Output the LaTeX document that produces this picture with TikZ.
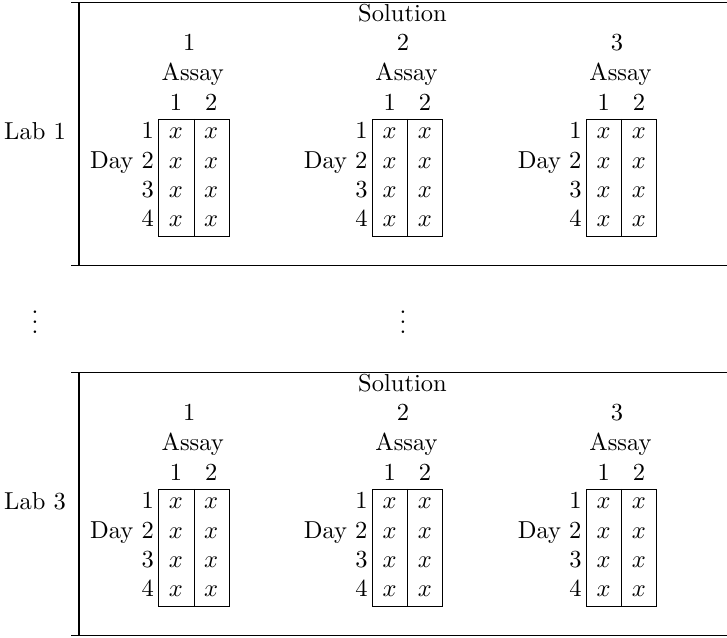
\documentclass[tikz,border=0pt]{standalone}
\begin{document}
\begin{tikzpicture}[x=0.408pt,y=-0.408pt,
  lbl/.style={inner sep=0pt,anchor=base},
  rlbl/.style={inner sep=0pt,anchor=base east},
  cellbox/.style={draw,inner sep=0pt,anchor=north west,minimum width=28.75pt,minimum height=47.85pt},
  rule/.style={line width=0.45pt}]
\useasboundingbox (0,0) rectangle (727,638);
\foreach \L/\oy in {1/0,3/370}{
  \coordinate (tl\L) at (71,\oy+2.7);
  \coordinate (tr\L) at (727,\oy+2.7);
  \coordinate (bl\L) at (71,\oy+265.7);
  \coordinate (br\L) at (727,\oy+265.7);
  \coordinate (vt\L) at (79,\oy+2.7);
  \coordinate (vb\L) at (79,\oy+265.7);
  \draw[rule] (tl\L) -- (tr\L);
  \draw[rule] (bl\L) -- (br\L);
  \draw[rule] (vt\L) -- (vb\L);
  \node[lbl] (lab\L) at (35,\oy+140) {Lab \L};
  \node[lbl] (soltitle\L) at (402.5,\oy+22) {Solution};
  \foreach \s/\bx in {1/158.3,2/372,3/586}{
    \node[lbl] (num\L\s) at (\bx+31,\oy+51) {\s};
    \node[lbl] (assay\L\s) at (\bx+34.5,\oy+81) {Assay};
    \node[lbl] (ca\L\s) at (\bx+17.7,\oy+111) {1};
    \node[lbl] (cb\L\s) at (\bx+52.9,\oy+111) {2};
    \node[cellbox] (box\L\s) at (\bx,\oy+119) {};
    \draw (box\L\s.north) -- (box\L\s.south);
    \foreach \r/\by/\t in {1/139/1,2/168.5/Day 2,3/198/3,4/227/4}{
      \node[rlbl] (row\L\s\r) at (\bx-4,\oy+\by) {\t};
      \node[lbl] (xa\L\s\r) at (\bx+17.7,\oy+\by) {$x$};
      \node[lbl] (xb\L\s\r) at (\bx+52.9,\oy+\by) {$x$};
    }
  }
}
\node[lbl] (vd1) at (35,333.5) {$\vdots$};
\node[lbl] (vd2) at (403,333.5) {$\vdots$};
\end{tikzpicture}
\end{document}
